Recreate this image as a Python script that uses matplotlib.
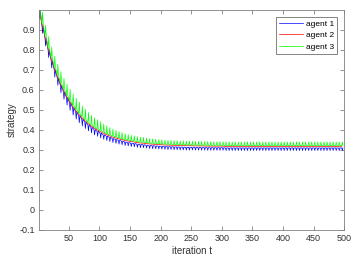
import matplotlib
matplotlib.use("Agg")
import matplotlib.pyplot as plt

plt.rcParams['font.family'] = ['Liberation Sans', 'DejaVu Sans']

# one tooth every 5 iterations, tooth k starts at iteration 1 + 5k
tooth_start = list(range(1, 500, 5))

agent2 = [1.000, 0.928, 0.864, 0.807, 0.755, 0.709, 0.668, 0.631, 0.598, 0.569,
          0.543, 0.519, 0.498, 0.479, 0.462, 0.447, 0.433, 0.421, 0.410, 0.401,
          0.392, 0.384, 0.377, 0.371, 0.365, 0.360, 0.356, 0.352, 0.348, 0.345,
          0.342, 0.340, 0.337, 0.335, 0.334, 0.332, 0.330, 0.329, 0.328, 0.327,
          0.326, 0.325, 0.324, 0.324, 0.323, 0.323, 0.322, 0.322, 0.321, 0.321,
          0.321, 0.320, 0.320, 0.320, 0.320, 0.319, 0.319, 0.319, 0.319, 0.319,
          0.319, 0.318, 0.318, 0.318, 0.318, 0.318, 0.318, 0.318, 0.318, 0.318,
          0.318, 0.318, 0.318, 0.318, 0.318, 0.318, 0.318, 0.318, 0.318, 0.318,
          0.318, 0.318, 0.318, 0.318, 0.318, 0.318, 0.318, 0.318, 0.318, 0.318,
          0.318, 0.318, 0.318, 0.318, 0.318, 0.318, 0.318, 0.318, 0.318, 0.318]

agent1_top = [1.000, 0.920, 0.856, 0.799, 0.747, 0.701, 0.660, 0.623, 0.590, 0.561,
              0.535, 0.511, 0.490, 0.471, 0.454, 0.439, 0.425, 0.413, 0.402, 0.393,
              0.384, 0.376, 0.369, 0.363, 0.357, 0.352, 0.348, 0.344, 0.340, 0.337,
              0.334, 0.332, 0.329, 0.327, 0.326, 0.324, 0.322, 0.321, 0.320, 0.319,
              0.318, 0.317, 0.316, 0.316, 0.315, 0.315, 0.314, 0.314, 0.313, 0.313,
              0.313, 0.312, 0.312, 0.312, 0.312, 0.311, 0.311, 0.311, 0.311, 0.311,
              0.311, 0.310, 0.310, 0.310, 0.310, 0.310, 0.310, 0.310, 0.310, 0.310,
              0.310, 0.310, 0.310, 0.310, 0.310, 0.310, 0.310, 0.310, 0.310, 0.310,
              0.310, 0.310, 0.310, 0.310, 0.310, 0.310, 0.310, 0.310, 0.310, 0.310,
              0.310, 0.310, 0.310, 0.310, 0.310, 0.310, 0.310, 0.310, 0.310, 0.310]

agent1_dip = [0.955, 0.883, 0.819, 0.762, 0.710, 0.664, 0.623, 0.586, 0.553, 0.524,
              0.498, 0.474, 0.454, 0.436, 0.420, 0.407, 0.395, 0.385, 0.375, 0.368,
              0.360, 0.353, 0.347, 0.342, 0.337, 0.333, 0.329, 0.326, 0.322, 0.320,
              0.317, 0.316, 0.313, 0.311, 0.311, 0.309, 0.307, 0.306, 0.306, 0.305,
              0.304, 0.303, 0.302, 0.302, 0.301, 0.301, 0.300, 0.300, 0.299, 0.299,
              0.300, 0.299, 0.299, 0.299, 0.299, 0.298, 0.298, 0.298, 0.298, 0.298,
              0.298, 0.297, 0.297, 0.297, 0.297, 0.297, 0.297, 0.297, 0.297, 0.297,
              0.297, 0.297, 0.297, 0.297, 0.297, 0.297, 0.297, 0.297, 0.297, 0.297,
              0.297, 0.297, 0.297, 0.297, 0.297, 0.297, 0.297, 0.297, 0.297, 0.297,
              0.297, 0.297, 0.297, 0.297, 0.297, 0.297, 0.297, 0.297, 0.297, 0.297]

agent3_base = [1.000, 0.932, 0.868, 0.811, 0.759, 0.713, 0.672, 0.635, 0.602, 0.573,
               0.547, 0.523, 0.502, 0.483, 0.466, 0.451, 0.437, 0.425, 0.414, 0.405,
               0.396, 0.388, 0.381, 0.375, 0.369, 0.364, 0.360, 0.356, 0.352, 0.349,
               0.346, 0.344, 0.341, 0.339, 0.338, 0.336, 0.334, 0.333, 0.332, 0.331,
               0.330, 0.329, 0.328, 0.328, 0.327, 0.327, 0.326, 0.326, 0.325, 0.325,
               0.325, 0.324, 0.324, 0.324, 0.324, 0.323, 0.323, 0.323, 0.323, 0.323,
               0.323, 0.322, 0.322, 0.322, 0.322, 0.322, 0.322, 0.322, 0.322, 0.322,
               0.322, 0.322, 0.322, 0.322, 0.322, 0.322, 0.322, 0.322, 0.322, 0.322,
               0.322, 0.322, 0.322, 0.322, 0.322, 0.322, 0.322, 0.322, 0.322, 0.322,
               0.322, 0.322, 0.322, 0.322, 0.322, 0.322, 0.322, 0.322, 0.322, 0.322]

agent3_tip = [1.040, 0.988, 0.924, 0.867, 0.815, 0.769, 0.728, 0.691, 0.658, 0.629,
              0.603, 0.579, 0.558, 0.539, 0.520, 0.503, 0.487, 0.473, 0.461, 0.451,
              0.441, 0.430, 0.421, 0.412, 0.404, 0.398, 0.392, 0.387, 0.381, 0.377,
              0.373, 0.370, 0.366, 0.363, 0.362, 0.359, 0.357, 0.355, 0.354, 0.352,
              0.351, 0.349, 0.348, 0.348, 0.347, 0.346, 0.345, 0.345, 0.344, 0.344,
              0.344, 0.343, 0.343, 0.343, 0.343, 0.342, 0.341, 0.341, 0.341, 0.341,
              0.341, 0.340, 0.340, 0.340, 0.340, 0.340, 0.340, 0.340, 0.340, 0.340,
              0.340, 0.340, 0.340, 0.340, 0.340, 0.340, 0.340, 0.340, 0.340, 0.340,
              0.340, 0.340, 0.340, 0.340, 0.340, 0.340, 0.340, 0.340, 0.340, 0.340,
              0.340, 0.340, 0.340, 0.340, 0.340, 0.340, 0.340, 0.340, 0.340, 0.340]

labels = ['agent 1', 'agent 2', 'agent 3']
x_ticks = [50, 100, 150, 200, 250, 300, 350, 400, 450, 500]
y_ticks = [-0.1, 0, 0.1, 0.2, 0.3, 0.4, 0.5, 0.6, 0.7, 0.8, 0.9]
y_tick_labels = ['-0.1', '0', '0.1', '0.2', '0.3', '0.4', '0.5', '0.6', '0.7', '0.8', '0.9']


def teeth(starts, base, tip):
    xs, ys = [], []
    for t0, b, p in zip(starts, base, tip):
        xs += [t0, t0 + 1, t0 + 2]
        ys += [b, p, b]
    return xs, ys


fig = plt.figure(figsize=(3.57, 2.68), dpi=100)
ax = fig.add_axes([0.109, 0.142, 0.855, 0.821])

bx, by = teeth(tooth_start, agent1_top, agent1_dip)
gx, gy = teeth(tooth_start, agent3_base, agent3_tip)
ax.plot(bx, by, color=(0, 0, 1), lw=0.5, label=labels[0])
ax.plot(tooth_start, agent2, color=(1, 0, 0), lw=0.5, label=labels[1])
ax.plot(gx, gy, color=(0, 1, 0), lw=0.5, label=labels[2])

ax.set_xlim(1, 500)
ax.set_ylim(-0.1, 1.0)
ax.set_xticks(x_ticks)
ax.set_yticks(y_ticks)
ax.set_yticklabels(y_tick_labels)

axcol = '#808080'
for s in ax.spines.values():
    s.set_color(axcol)
    s.set_linewidth(0.6)
ax.tick_params(direction='in', top=True, right=True, length=3, width=0.6,
               color=axcol, labelsize=6.5, labelcolor='#333333', pad=3)
ax.set_xlabel('iteration t', fontsize=7, color='#333333', labelpad=2)
ax.set_ylabel('strategy', fontsize=7, color='#333333', labelpad=2)

leg = ax.legend(loc='upper right', fontsize=6, frameon=True, fancybox=False,
                edgecolor='#262626', handlelength=2.8, borderpad=0.4,
                labelspacing=0.45, handletextpad=0.4, borderaxespad=0.8)
leg.get_frame().set_linewidth(0.5)

fig.savefig('out.png', dpi=100)
